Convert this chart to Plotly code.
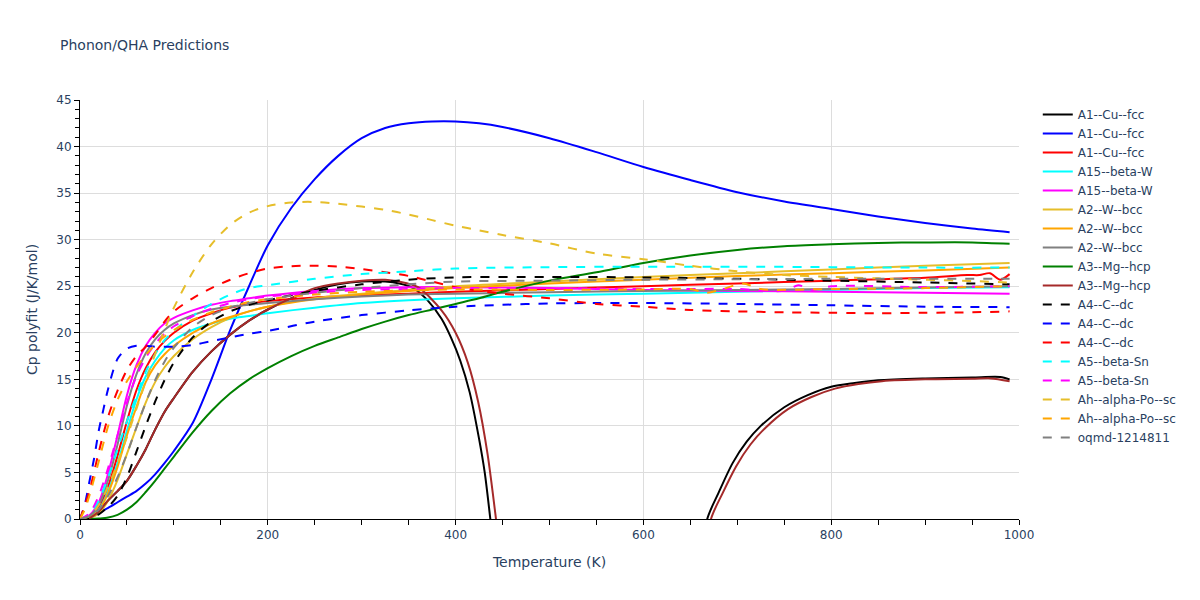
import plotly.graph_objects as go

# ---------------- data ----------------
T_STD = [0, 10, 20, 30, 40, 50, 60, 70, 80, 90, 100, 120, 140, 160, 180, 200,
         250, 300, 350, 400, 500, 600, 700, 800, 900, 990]
T_LONG = [0, 10, 20, 30, 40, 50, 60, 70, 80, 90, 100, 120, 140, 160, 180, 200,
          225, 250, 275, 300, 325, 350, 375, 400, 425, 450, 500, 550, 600, 650,
          700, 750, 800, 850, 900, 950, 990]

names = ["A1--Cu--fcc", "A1--Cu--fcc", "A1--Cu--fcc", "A15--beta-W", "A15--beta-W",
         "A2--W--bcc", "A2--W--bcc", "A2--W--bcc", "A3--Mg--hcp", "A3--Mg--hcp",
         "A4--C--dc", "A4--C--dc", "A4--C--dc", "A5--beta-Sn", "A5--beta-Sn",
         "Ah--alpha-Po--sc", "Ah--alpha-Po--sc", "oqmd-1214811"]

# A1--Cu--fcc (black, solid)
t_cu_black = [0, 10, 20, 30, 40, 50, 60, 70, 80, 90, 100, 120, 140, 160, 180, 200,
              225, 250, 275, 300, 325, 340, 355, 370, 385, 395, 405, 415, 425, 431,
              437, 445, 500, 600, 660, 668, 680, 695, 710, 725, 750, 775, 800, 825,
              850, 900, 950, 980, 990]
cp_cu_black = [0, 0.1, 0.8, 2.0, 3.0, 4.1, 5.7, 7.5, 9.6, 11.5, 13.0, 15.8, 18.0, 19.8,
               21.3, 22.5, 23.7, 24.6, 25.2, 25.5, 25.5, 25.3, 24.8, 23.5, 21.5, 19.5,
               17.0, 13.6, 8.6, 5.0, 0, -7, -40, -40, -6, 0, 2.8, 6.0, 8.3, 10.0, 12.0,
               13.3, 14.2, 14.6, 14.9, 15.1, 15.2, 15.25, 15.0]

# A1--Cu--fcc (blue, solid)
cp_cu_blue = [0, 0.2, 0.7, 1.2, 1.8, 2.4, 3.0, 3.8, 4.8, 6.0, 7.3, 10.3, 15.0, 20.3,
              25.0, 29.4, 33.4, 36.5, 39.0, 40.9, 42.0, 42.5, 42.7, 42.7, 42.5, 42.1,
              40.9, 39.4, 37.8, 36.4, 35.1, 34.1, 33.3, 32.5, 31.8, 31.2, 30.8]

# A1--Cu--fcc (red, solid)
t_cu_red = [0, 10, 20, 30, 40, 50, 60, 70, 80, 90, 100, 120, 140, 160, 180, 200,
            250, 300, 350, 400, 500, 600, 700, 800, 900, 945, 958, 969, 980, 990]
cp_cu_red = [0, 0.2, 1.2, 3.5, 6.8, 10.5, 13.8, 16.2, 17.9, 19.1, 20.0, 21.3, 22.1,
             22.7, 23.1, 23.4, 23.8, 24.0, 24.2, 24.4, 24.7, 25.0, 25.3, 25.6, 25.9,
             26.2, 26.2, 26.4, 25.7, 26.3]

# A15--beta-W (cyan, solid)
cp_w15_cyan = [0, 0.2, 1.0, 3.0, 6.0, 9.5, 12.8, 15.3, 17.0, 18.3, 19.2, 20.3, 21.0,
               21.5, 21.8, 22.1, 22.7, 23.2, 23.5, 23.7, 24.0, 24.2, 24.4, 24.6, 24.8, 24.9]

# A15--beta-W (magenta, solid)
cp_w15_magenta = [0, 0.4, 1.8, 4.9, 9.0, 13.3, 16.5, 18.6, 20.0, 21.0, 21.6, 22.4, 23.0,
                  23.4, 23.7, 24.0, 24.5, 24.8, 24.9, 24.9, 24.8, 24.6, 24.5, 24.4, 24.3, 24.2]

# A2--W--bcc (yellow, orange, gray; solid)
cp_w2_yellow = [0, 0.1, 0.6, 2.0, 4.2, 7.0, 9.8, 12.5, 14.7, 16.3, 17.5, 19.3, 20.6,
                21.6, 22.3, 22.8, 23.7, 24.2, 24.6, 25.0, 25.5, 26.0, 26.4, 26.8, 27.2, 27.5]
cp_w2_orange = [0, 0.2, 0.9, 2.8, 5.6, 9.0, 12.0, 14.7, 16.5, 17.7, 18.6, 20.0, 21.0,
                21.7, 22.3, 22.8, 23.6, 24.1, 24.5, 24.8, 25.3, 25.7, 26.1, 26.4, 26.7, 27.0]
cp_w2_gray = [0, 0.3, 1.5, 4.2, 8.0, 12.2, 15.5, 17.8, 19.3, 20.3, 21.0, 21.9, 22.5,
              22.8, 23.0, 23.2, 23.6, 23.9, 24.1, 24.2, 24.35, 24.5, 24.6, 24.7, 24.85, 25.0]

# A3--Mg--hcp (green, solid)
cp_mg_green = [0, 0, 0.05, 0.15, 0.45, 1.0, 1.8, 2.9, 4.1, 5.4, 6.7, 9.3, 11.6, 13.5,
               15.0, 16.2, 17.5, 18.6, 19.5, 20.4, 21.2, 21.9, 22.5, 23.1, 23.7, 24.4,
               25.6, 26.5, 27.5, 28.3, 28.9, 29.3, 29.5, 29.65, 29.7, 29.7, 29.55]

# A3--Mg--hcp (brown, solid)
t_mg_brown = [0, 10, 20, 30, 40, 50, 60, 70, 80, 90, 100, 120, 140, 160, 180, 200,
              225, 250, 275, 300, 325, 340, 360, 385, 400, 413, 424, 434, 443, 451,
              500, 600, 664, 672, 684, 699, 714, 729, 754, 779, 804, 829, 854, 900,
              950, 970, 990]
cp_mg_brown = [0, 0.1, 0.8, 2.0, 3.0, 4.1, 5.7, 7.5, 9.6, 11.5, 13.0, 15.8, 18.0, 19.8,
               21.3, 22.5, 23.7, 24.8, 25.3, 25.6, 25.7, 25.5, 24.9, 22.4, 20.0, 16.8,
               12.6, 7.0, 0, -7, -40, -40, -6, 0, 2.7, 5.7, 8.0, 9.7, 11.8, 13.1, 14.0,
               14.5, 14.8, 15.0, 15.05, 15.1, 14.8]

# A4--C--dc (black, blue, red; dashed)
cp_c_black = [0, 0.1, 0.5, 1.3, 2.5, 4.5, 7.2, 10.0, 12.6, 14.9, 16.8, 19.5, 21.2, 22.3,
              23.0, 23.5, 24.5, 25.2, 25.7, 25.95, 26.0, 25.95, 25.8, 25.6, 25.4, 25.2]
t_c_blue = [0, 5, 10, 15, 20, 25, 30, 40, 50, 60, 70, 80, 90, 100, 120, 140, 160, 180,
            200, 250, 300, 350, 400, 450, 500, 550, 600, 700, 800, 900, 990]
cp_c_blue = [0, 1.5, 4.0, 6.5, 9.5, 11.8, 14.0, 17.2, 18.3, 18.6, 18.6, 18.5, 18.5, 18.5,
             18.7, 19.1, 19.5, 19.9, 20.2, 21.2, 21.9, 22.4, 22.8, 23.0, 23.15, 23.2,
             23.2, 23.1, 22.95, 22.8, 22.75]
cp_c_red = [0, 3.0, 7.2, 11.0, 13.8, 16.0, 17.5, 18.5, 19.8, 21.2, 22.3, 23.7, 24.8, 25.7,
            26.4, 26.9, 27.15, 27.2, 27.1, 26.85, 26.5, 26.1, 25.5, 24.9, 24.5, 24.2,
            23.7, 23.1, 22.8, 22.45, 22.3, 22.2, 22.15, 22.1, 22.15, 22.2, 22.3]

# A5--beta-Sn (cyan, magenta; dashed)
cp_sn_cyan = [0, 0.5, 2.0, 4.5, 7.5, 10.5, 13.2, 15.8, 17.7, 19.2, 20.2, 21.8, 23.1,
              24.1, 24.8, 25.1, 25.8, 26.3, 26.6, 26.9, 27.05, 27.1, 27.1, 27.05, 27.0, 27.0]
t_sn_magenta = [0, 10, 20, 30, 40, 50, 60, 70, 80, 90, 100, 120, 140, 160, 180, 200,
                250, 300, 350, 400, 500, 600, 700, 750, 765, 780, 800, 900, 990]
cp_sn_magenta = [0, 0.6, 2.5, 5.5, 9.0, 12.5, 15.3, 17.3, 18.8, 19.9, 20.7, 21.8, 22.6,
                 23.2, 23.6, 23.9, 24.3, 24.6, 24.7, 24.8, 24.8, 24.7, 24.7, 24.5, 25.1,
                 24.6, 25.0, 24.9, 25.0]

# Ah--alpha-Po--sc (yellow, orange; dashed)
cp_po_yellow = [0, 0.3, 1.5, 3.5, 6.0, 8.8, 11.8, 14.8, 17.7, 20.3, 22.7, 26.5, 29.5,
                31.6, 32.9, 33.6, 34.0, 34.05, 33.85, 33.55, 33.2, 32.7, 32.1, 31.5,
                31.0, 30.5, 29.6, 28.5, 27.9, 27.2, 26.6, 26.2, 26.0, 25.85, 25.7, 25.55, 25.4]
t_po_orange = [0, 5, 10, 20, 30, 40, 50, 60, 70, 80, 90, 100, 120, 140, 160, 180, 200,
               250, 300, 350, 400, 500, 600, 650, 667, 685, 706, 725, 800, 900, 990]
cp_po_orange = [0, 1.0, 2.5, 6.2, 10.0, 12.8, 14.8, 16.3, 17.6, 18.7, 19.6, 20.3, 21.4,
                22.2, 22.8, 23.3, 23.6, 24.1, 24.4, 24.55, 24.65, 24.6, 24.65, 24.7, 24.3,
                24.7, 25.3, 24.7, 24.7, 24.8, 25.0]

# oqmd-1214811 (gray, dashed)
cp_oqmd_gray = [0, 0.3, 1.0, 2.5, 4.5, 7.0, 9.8, 12.5, 14.9, 16.9, 18.4, 20.6, 21.9,
                22.7, 23.2, 23.6, 24.3, 24.8, 25.2, 25.5, 25.6, 25.7, 25.75, 25.8, 25.8, 25.8]

series = [
    (t_cu_black, cp_cu_black, "black", "solid"),
    (T_LONG, cp_cu_blue, "blue", "solid"),
    (t_cu_red, cp_cu_red, "red", "solid"),
    (T_STD, cp_w15_cyan, "cyan", "solid"),
    (T_STD, cp_w15_magenta, "magenta", "solid"),
    (T_STD, cp_w2_yellow, "#E6BE2A", "solid"),
    (T_STD, cp_w2_orange, "orange", "solid"),
    (T_STD, cp_w2_gray, "gray", "solid"),
    (T_LONG, cp_mg_green, "green", "solid"),
    (t_mg_brown, cp_mg_brown, "brown", "solid"),
    (T_STD, cp_c_black, "black", "dash"),
    (t_c_blue, cp_c_blue, "blue", "dash"),
    (T_LONG, cp_c_red, "red", "dash"),
    (T_STD, cp_sn_cyan, "cyan", "dash"),
    (t_sn_magenta, cp_sn_magenta, "magenta", "dash"),
    (T_LONG, cp_po_yellow, "#E6BE2A", "dash"),
    (t_po_orange, cp_po_orange, "orange", "dash"),
    (T_STD, cp_oqmd_gray, "gray", "dash"),
]

fig = go.Figure()
for name, (t, cp, color, dash) in zip(names, series):
    fig.add_trace(go.Scatter(
        x=t, y=cp, mode="lines", name=name,
        line=dict(color=color, width=2, dash=dash, shape="spline", smoothing=0.8),
    ))

FONT = "Verdana, 'DejaVu Sans', sans-serif"
axis_common = dict(
    showline=True, linecolor="black", linewidth=1, mirror=False,
    ticks="outside", tickcolor="black", ticklen=5,
    showgrid=True, gridcolor="rgb(221,221,221)", zeroline=False,
    tickfont=dict(size=12), title_font=dict(size=14),
)
fig.update_layout(
    template="plotly_white",
    width=1200, height=600,
    font=dict(family=FONT, color="#2a3f5f", size=12),
    title=dict(text="Phonon/QHA Predictions", font=dict(size=14)),
    margin=dict(l=80, r=181, t=100, b=81),
    xaxis=dict(title=dict(text="Temperature (K)"), range=[0, 1000], dtick=200,
               minor=dict(dtick=50, ticks="outside", ticklen=5, tickcolor="black", showgrid=False),
               **axis_common),
    yaxis=dict(title=dict(text="Cp polyfit (J/K/mol)"), range=[0, 45], dtick=5,
               minor=dict(dtick=1, ticks="outside", ticklen=4, tickcolor="black", showgrid=False),
               **axis_common),
    legend=dict(x=1.02, y=1, tracegroupgap=0),
    plot_bgcolor="white", paper_bgcolor="white",
)

fig.write_html("out.html", config={"displayModeBar": False},
               post_script="document.body.style.margin='0';")
